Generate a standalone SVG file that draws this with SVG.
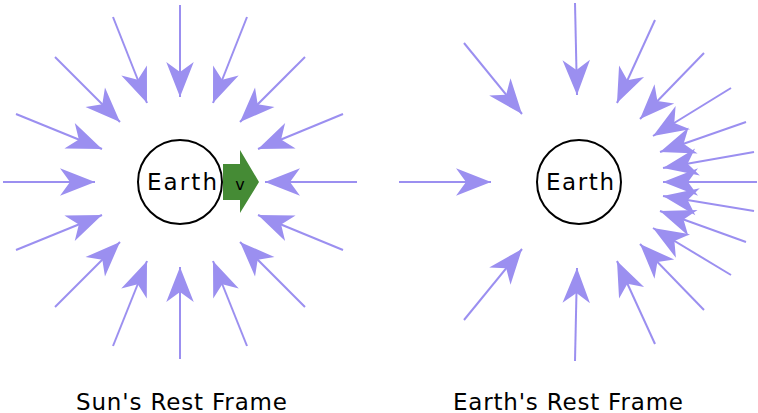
<svg xmlns="http://www.w3.org/2000/svg" width="758" height="413" viewBox="0 0 758 413">
<style>
.a{stroke:#9b8ff0;stroke-width:2;fill:none;marker-end:url(#h)}
.t{font-family:"DejaVu Sans",sans-serif;font-size:23px;fill:#000}
</style>
<defs>
<marker id="h" markerUnits="userSpaceOnUse" markerWidth="40" markerHeight="30" viewBox="0 -12 30 24" refX="28" refY="0" orient="auto">
<path d="M0,-11 L28,0 L0,11 L8,0 Z" fill="#9b8ff0"/>
</marker>
</defs>
<rect width="758" height="413" fill="#fff"/>
<g id="connectors">
<line class="a" x1="357" y1="182" x2="265" y2="182"/>
<line class="a" x1="343" y1="114" x2="258" y2="149"/>
<line class="a" x1="305" y1="57" x2="240" y2="122"/>
<line class="a" x1="247" y1="17" x2="213" y2="103"/>
<line class="a" x1="180" y1="5" x2="180" y2="97"/>
<line class="a" x1="113" y1="17" x2="147" y2="103"/>
<line class="a" x1="55" y1="57" x2="120" y2="122"/>
<line class="a" x1="16" y1="114" x2="102" y2="149"/>
<line class="a" x1="3" y1="182" x2="95" y2="182"/>
<line class="a" x1="16" y1="250" x2="102" y2="215"/>
<line class="a" x1="55" y1="307" x2="120" y2="242"/>
<line class="a" x1="113" y1="346" x2="147" y2="261"/>
<line class="a" x1="180" y1="359" x2="180" y2="267"/>
<line class="a" x1="247" y1="346" x2="213" y2="261"/>
<line class="a" x1="305" y1="307" x2="240" y2="242"/>
<line class="a" x1="343" y1="250" x2="258" y2="215"/>

<line class="a" x1="399" y1="182" x2="491" y2="182"/>
<line class="a" x1="464" y1="43" x2="522" y2="114"/>
<line class="a" x1="464" y1="320" x2="522" y2="249"/>
<line class="a" x1="575" y1="3" x2="577" y2="95"/>
<line class="a" x1="575" y1="361" x2="577" y2="268"/>
<line class="a" x1="655" y1="20" x2="617" y2="103"/>
<line class="a" x1="704" y1="53" x2="640" y2="119"/>
<line class="a" x1="731" y1="88" x2="653" y2="136"/>
<line class="a" x1="746" y1="122" x2="660" y2="152"/>
<line class="a" x1="754" y1="152" x2="663" y2="168"/>
<line class="a" x1="757" y1="182" x2="663" y2="182"/>
<line class="a" x1="754" y1="211" x2="663" y2="196"/>
<line class="a" x1="746" y1="242" x2="660" y2="211"/>
<line class="a" x1="731" y1="275" x2="653" y2="228"/>
<line class="a" x1="704" y1="310" x2="640" y2="244"/>
<line class="a" x1="655" y1="344" x2="617" y2="261"/>
</g>
<g id="earth-sun">
<circle cx="180" cy="182" r="42" fill="#fff" stroke="#000" stroke-width="2"/>
<text class="t" x="147" y="190" textLength="70" lengthAdjust="spacing">Earth</text>
</g>
<g id="velocity">
<path d="M223,164 H240 V150 L259,182 L240,213 V200 H223 Z" fill="#458b35"/>
<text x="240" y="190" text-anchor="middle" font-family="DejaVu Sans,sans-serif" font-size="16">v</text>
</g>
<g id="earth-rest">
<circle cx="579" cy="182" r="42" fill="#fff" stroke="#000" stroke-width="2"/>
<text class="t" x="546" y="190" textLength="68" lengthAdjust="spacing">Earth</text>
</g>
<g id="labels">
<text class="t" x="76" y="410" textLength="211" lengthAdjust="spacing">Sun's Rest Frame</text>
<text class="t" x="453" y="410" textLength="230" lengthAdjust="spacing">Earth's Rest Frame</text>
</g>
</svg>
